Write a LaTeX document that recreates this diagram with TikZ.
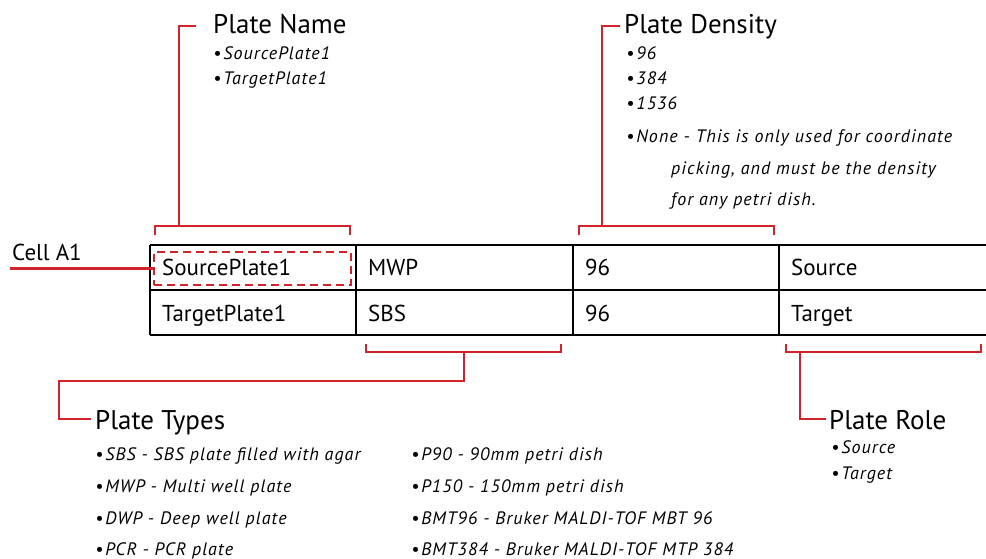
\documentclass[tikz,border=0pt]{standalone}
\usepackage{fontspec}
\setmainfont{PT Sans}
\newfontfamily\itemfont[LetterSpace=6]{PT Sans}
\usetikzlibrary{positioning}
\definecolor{markred}{HTML}{D2232A}
\newcommand{\bul}{•\kern2pt}

\begin{document}
\begin{tikzpicture}[x=1pt,y=-1pt,
  grid/.style={draw=black,line width=2.6pt},
  callout/.style={draw=markred,line width=2.6pt},
  title/.style={anchor=base west,inner sep=0pt,font=\fontsize{27}{30}\selectfont},
  item/.style={anchor=base west,inner sep=0pt,font=\fontsize{18}{21}\itemfont\itshape},
  cell/.style={anchor=base west,inner sep=0pt,font=\fontsize{23}{26}\selectfont}]
\useasboundingbox (0,0) rectangle (986,559);

% table
\foreach \y in {245,290,335} \draw[grid] (150,\y) -- (986,\y);
\foreach \x in {150,356,573,779} \draw[grid] (\x,245) -- (\x,335);
\node[cell] (c11) at (162,275) {SourcePlate1};
\node[cell] (c12) at (368,275) {MWP};
\node[cell] (c13) at (585,275) {96};
\node[cell] (c14) at (791,275) {Source};
\node[cell] (c21) at (162,321) {TargetPlate1};
\node[cell] (c22) at (368,321) {SBS};
\node[cell] (c23) at (585,321) {96};
\node[cell] (c24) at (791,321) {Target};

% cell A1
\node[draw=markred,line width=2.4pt,dash pattern=on 8pt off 5pt,
  minimum width=197pt,minimum height=33pt,inner sep=0pt] (a1) at (252.5,268.5) {};
\node[cell] (cellA1) at (12,260) {Cell A1};
\coordinate (a1L) at (10,268.5);
\draw[callout] (a1L) -- (a1.west);

% plate name
\node[title] (nameT) at (213,34) {Plate Name};
\node[item] (name1) at (213,60) {\bul SourcePlate1};
\node[item] (name2) at (213,85) {\bul TargetPlate1};
\coordinate (nameL) at (155,226);
\coordinate (nameR) at (350,226);
\coordinate (nameS) at (179,226);
\coordinate (nameK) at (196,26);
\draw[callout] (nameL) ++(0,9) -- (nameL) -- (nameR) -- ++(0,9);
\draw[callout] (nameS) |- (nameK);

% plate density
\node[title] (densT) at (624,34) {Plate Density};
\node[item] (dens1) at (626,60) {\bul 96};
\node[item] (dens2) at (626,85) {\bul 384};
\node[item] (dens3) at (626,110) {\bul 1536};
\node[item] (dens4) at (626,143) {\bul None - This is only used for coordinate};
\node[item] (dens5) at (671,175) {picking, and must be the density};
\node[item] (dens6) at (671,205) {for any petri dish.};
\coordinate (densL) at (579,226);
\coordinate (densR) at (774,226);
\coordinate (densS) at (602,226);
\coordinate (densK) at (620,26);
\draw[callout] (densL) ++(0,9) -- (densL) -- (densR) -- ++(0,9);
\draw[callout] (densS) |- (densK);

% plate types
\node[title] (typeT) at (95,429) {Plate Types};
\node[item] (type1) at (95,460) {\bul SBS - SBS plate filled with agar};
\node[item] (type2) at (95,492) {\bul MWP - Multi well plate};
\node[item] (type3) at (95,524) {\bul DWP - Deep well plate};
\node[item] (type4) at (95,555) {\bul PCR - PCR plate};
\node[item] (type5) at (411,460) {\bul P90 - 90mm petri dish};
\node[item] (type6) at (411,492) {\bul P150 - 150mm petri dish};
\node[item] (type7) at (411,524) {\bul BMT96 - Bruker MALDI-TOF MBT 96};
\node[item] (type8) at (411,555) {\bul BMT384 - Bruker MALDI-TOF MTP 384};
\coordinate (typeL) at (366,352);
\coordinate (typeR) at (561,352);
\coordinate (typeS) at (464,352);
\coordinate (typeK) at (91,419);
\draw[callout] (typeL) ++(0,-8) -- (typeL) -- (typeR) -- ++(0,-8);
\draw[callout] (typeS) |- (59,381) |- (typeK);

% plate role
\node[title] (roleT) at (829,429) {Plate Role};
\node[item] (role1) at (831,453) {\bul Source};
\node[item] (role2) at (831,479) {\bul Target};
\coordinate (roleL) at (786,352);
\coordinate (roleR) at (981,352);
\coordinate (roleS) at (800,352);
\coordinate (roleK) at (826,419);
\draw[callout] (roleL) ++(0,-8) -- (roleL) -- (roleR) -- ++(0,-8);
\draw[callout] (roleS) |- (roleK);
\end{tikzpicture}
\end{document}
